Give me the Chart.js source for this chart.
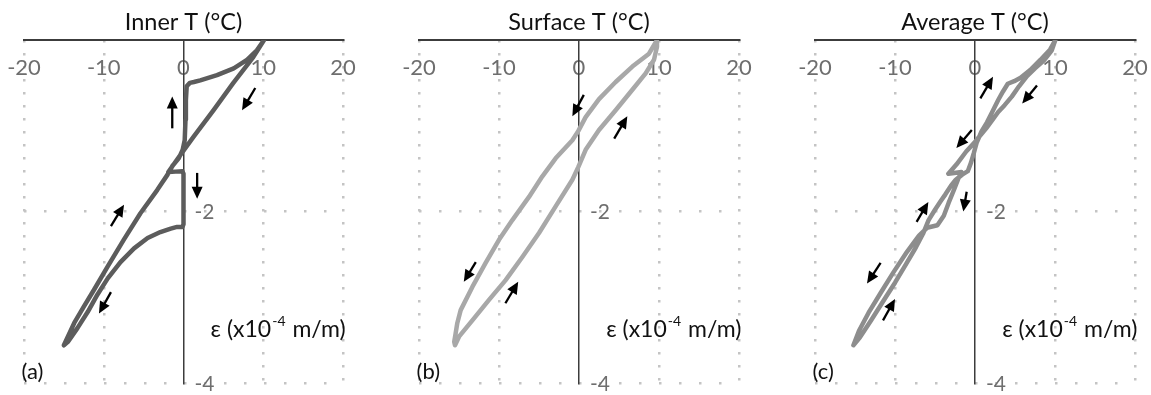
<!DOCTYPE html>
<html>
<head>
<meta charset="utf-8">
<script src="https://cdn.jsdelivr.net/npm/chart.js@4.4.1/dist/chart.umd.min.js"></script>
<style>
  html, body { margin: 0; padding: 0; background: #fff; }
  #wrap { position: relative; width: 1151px; height: 395px; overflow: hidden; }
  canvas { position: absolute; top: 0; }
</style>
</head>
<body>
<div id="wrap">
  <canvas id="chartA" width="384" height="395" style="left:0"></canvas>
  <canvas id="chartB" width="384" height="395" style="left:384px"></canvas>
  <canvas id="chartC" width="384" height="395" style="left:767px"></canvas>
</div>
<script>
// temperature (°C) against strain (x10^-4 m/m), one closed cycle per panel
const xTicks = [-20, -10, 0, 10, 20];
const yTicks = [0, -2, -4];

const innerTemp = [10.1, 8.75, 6.25, 3.75, 1.25, 0, -1.0, -1.9, -1.0, -0.15, 0, 0, 0, -0.15, -0.8, -1.6, -2.9, -4.5, -6.2, -7.9, -9.5, -10.8, -12.0, -13.3, -14.5, -15.0,
  -13.7, -12.5, -11.2, -9.5, -7.5, -5.4, -3.3, -2.0, -1.4, -0.6, -0.1, 0.15, 0.25, 0.3, 0.4, 0.8, 1.3, 2.1, 4.2, 6.3, 8.0, 9.2, 10.1];
const innerStrain = [0, -0.2, -0.5, -0.82, -1.13, -1.29, -1.42, -1.54, -1.535, -1.53, -1.56, -1.9, -2.15, -2.18, -2.18, -2.2, -2.24, -2.31, -2.43, -2.59, -2.78, -2.97, -3.17, -3.36, -3.52, -3.56,
  -3.30, -3.11, -2.91, -2.64, -2.33, -2.02, -1.75, -1.57, -1.47, -1.38, -1.28, -1.17, -0.93, -0.70, -0.54, -0.50, -0.49, -0.47, -0.41, -0.33, -0.23, -0.12, 0];

const surfaceTemp = [9.75, 8.75, 6.67, 4.58, 2.5, 0.83, -0.08, -0.83, -2.92, -4.58, -6.25, -8.33, -10.0, -11.67, -13.33, -14.79, -15.21, -15.42, -15.6, -15.5,
  -15.0, -13.33, -11.25, -9.17, -7.08, -5.0, -2.92, -0.83, -0.08, 0.83, 2.5, 4.58, 6.67, 8.33, 9.375, 9.75, 9.75];
const surfaceStrain = [0, -0.16, -0.31, -0.49, -0.69, -0.9, -1.06, -1.17, -1.38, -1.59, -1.83, -2.10, -2.33, -2.60, -2.88, -3.15, -3.30, -3.42, -3.52, -3.56,
  -3.46, -3.27, -3.03, -2.80, -2.53, -2.25, -1.94, -1.63, -1.48, -1.28, -1.05, -0.82, -0.58, -0.39, -0.23, -0.08, 0];

const averageTemp = [10.04, 9.6, 8.6, 7.5, 6.5, 5.5, 4.6, 3.7, 2.9, 2.2, 1.4, 0.6, -0.1, -1.1, -2.3, -3.33, -2.6, -1.7, -2.1, -2.6, -3.3, -3.9, -4.7, -6.0, -7.0, -8.5, -10.2, -11.8, -13.3, -14.5, -15.2,
  -14.4, -13.0, -11.5, -10.0, -8.6, -7.4, -6.5, -5.8, -5.0, -4.3, -3.7, -3.0, -2.4, -1.6, -0.9, -0.5, -0.15, 0.2, 0.8, 1.5, 2.2, 2.9, 3.5, 4.1, 4.9, 5.7, 6.9, 8.2, 9.4, 10.04];
const averageStrain = [0, -0.12, -0.24, -0.33, -0.42, -0.54, -0.66, -0.76, -0.84, -0.93, -1.03, -1.12, -1.2, -1.3, -1.45, -1.56, -1.55, -1.54, -1.62, -1.74, -1.9, -2.05, -2.16, -2.19, -2.28, -2.47, -2.71, -2.95, -3.18, -3.39, -3.56,
  -3.47, -3.27, -3.05, -2.83, -2.61, -2.42, -2.26, -2.10, -1.98, -1.88, -1.80, -1.70, -1.63, -1.57, -1.53, -1.43, -1.32, -1.2, -1.07, -0.96, -0.83, -0.70, -0.6, -0.51, -0.48, -0.44, -0.35, -0.23, -0.11, 0];

// direction arrows, [tailT, tailStrain, headT, headStrain]
const innerArrows = [[-1.41, -1.03, -1.41, -0.66], [9.0, -0.56, 7.34, -0.82], [1.71, -1.55, 1.71, -1.85], [-9.1, -2.17, -7.46, -1.92], [-9.1, -2.94, -10.6, -3.19]];
const surfaceArrows = [[0.6, -0.64, -0.83, -0.89], [4.4, -1.15, 6.04, -0.89], [-12.9, -2.59, -14.4, -2.82], [-9.2, -3.07, -7.6, -2.82]];
const averageArrows = [[0.67, -0.68, 2.25, -0.43], [7.75, -0.53, 5.9, -0.74], [-0.4, -1.05, -2.33, -1.26], [-1.04, -1.77, -1.46, -2.0],
  [-7.3, -2.12, -5.83, -1.89], [-11.8, -2.6, -13.5, -2.84], [-11.5, -3.27, -10.0, -3.02]];

Chart.defaults.font.family = 'Lato';
const tickGrey = '#6e6e6e';

// arrows, panel letter, strain unit and the y tick labels (drawn on the right of the axis)
const panelDecor = {
  id: 'panelDecor',
  afterDatasetsDraw(chart, args, opts) {
    const { ctx, scales: { x, y } } = chart;
    ctx.save();
    ctx.fillStyle = '#000';
    ctx.strokeStyle = '#000';
    ctx.lineWidth = 2.3;
    opts.arrows.forEach(([t1, s1, t2, s2]) => {
      const x1 = x.getPixelForValue(t1), y1 = y.getPixelForValue(s1);
      const x2 = x.getPixelForValue(t2), y2 = y.getPixelForValue(s2);
      const a = Math.atan2(y2 - y1, x2 - x1);
      const len = 12, half = 5.5;
      ctx.beginPath();
      ctx.moveTo(x1, y1);
      ctx.lineTo(x2 - Math.cos(a) * len * 0.7, y2 - Math.sin(a) * len * 0.7);
      ctx.stroke();
      ctx.beginPath();
      ctx.moveTo(x2, y2);
      ctx.lineTo(x2 - len * Math.cos(a) + half * Math.sin(a), y2 - len * Math.sin(a) - half * Math.cos(a));
      ctx.lineTo(x2 - len * Math.cos(a) - half * Math.sin(a), y2 - len * Math.sin(a) + half * Math.cos(a));
      ctx.closePath();
      ctx.fill();
    });

    const x0 = x.getPixelForValue(0);
    ctx.font = '21px Lato';
    ctx.fillStyle = tickGrey;
    ctx.textAlign = 'left';
    ctx.textBaseline = 'middle';
    y.ticks.forEach(t => {
      if (t.value === 0) return;
      ctx.fillText(t.label ?? String(t.value), x0 + 11, y.getPixelForValue(t.value) + 1);
    });

    ctx.fillStyle = '#111';
    ctx.font = '22px Lato';
    ctx.fillText(opts.letter, x.getPixelForValue(-20.3), y.getPixelForValue(-3.87));

    let ux = x.getPixelForValue(3.4);
    const uy = y.getPixelForValue(-3.38);
    ctx.font = '23px Lato';
    ctx.fillText('ε (x10', ux, uy);
    ux += ctx.measureText('ε (x10').width;
    ctx.font = '14px Lato';
    ctx.fillText('-4', ux + 1, uy - 8);
    ux += ctx.measureText('-4').width + 2;
    ctx.font = '23px Lato';
    ctx.fillText(' m/m)', ux, uy);
    ctx.restore();
  }
};

function makePanel(canvasId, title, letter, temps, strains, colour, arrows, padLeft, padRight) {
  const points = temps.map((t, i) => ({ x: t, y: strains[i] }));
  const gridColour = c => (c.tick && c.tick.value === 0 ? 'rgba(0,0,0,0)' : '#c4c4c4');
  return new Chart(document.getElementById(canvasId), {
    type: 'scatter',
    data: {
      datasets: [{
        data: points,
        showLine: true,
        borderColor: colour,
        borderWidth: 4.5,
        borderJoinStyle: 'round',
        borderCapStyle: 'round',
        pointRadius: 0,
        tension: 0
      }]
    },
    options: {
      responsive: false,
      animation: false,
      layout: { padding: { left: padLeft, right: padRight, top: 0, bottom: 12 } },
      scales: {
        x: {
          type: 'linear',
          position: { y: 0 },
          min: xTicks[0],
          max: xTicks[xTicks.length - 1],
          // invisible tick marks push the labels under the top axis line
          ticks: { stepSize: 10, color: tickGrey, font: { size: 22 }, padding: 3, autoSkip: false, maxRotation: 0 },
          grid: { color: gridColour, lineWidth: 2.5, drawTicks: true, tickLength: 12, tickColor: 'rgba(0,0,0,0)' },
          border: { color: '#3c3c3c', width: 2, dash: [2.5, 10.5] }
        },
        y: {
          type: 'linear',
          position: { x: 0 },
          min: yTicks[yTicks.length - 1],
          max: yTicks[0],
          ticks: { stepSize: 2, display: false },
          grid: { color: gridColour, lineWidth: 2.5, drawTicks: false },
          border: { color: '#3c3c3c', width: 1.5, dash: [2.5, 17.5] }
        }
      },
      plugins: {
        legend: { display: false },
        tooltip: { enabled: false },
        title: {
          display: true,
          text: title,
          fullSize: false,
          color: '#111',
          font: { size: 23.5, weight: 'normal' },
          padding: { top: 8, bottom: 3.8 }
        },
        panelDecor: { arrows: arrows, letter: letter }
      }
    },
    plugins: [panelDecor]
  });
}

makePanel('chartA', 'Inner T (°C)', '(a)', innerTemp, innerStrain, '#5c5c5c', innerArrows, 24, 41);
makePanel('chartB', 'Surface T (°C)', '(b)', surfaceTemp, surfaceStrain, '#a8a8a8', surfaceArrows, 35, 29);
makePanel('chartC', 'Average T (°C)', '(c)', averageTemp, averageStrain, '#8d8d8d', averageArrows, 48, 16);
</script>
</body>
</html>
